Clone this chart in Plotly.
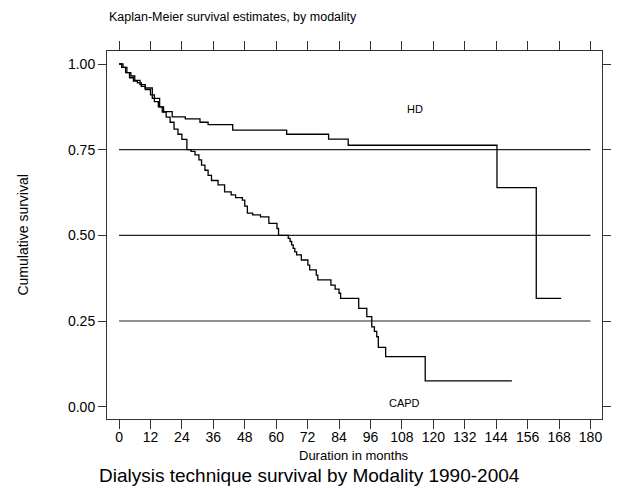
import plotly.graph_objects as go

# ---- data ----
hd_time = [0, 1.5, 3, 4.5, 6, 8, 10, 12.7, 15.5, 17, 20.3, 25.3, 30.9, 34, 43.4, 64, 80, 87.5, 144.3, 159.3, 168.8]
hd_surv = [1.0, 0.99, 0.975, 0.965, 0.952, 0.94, 0.93, 0.90, 0.875, 0.861, 0.846, 0.840, 0.830, 0.823, 0.807, 0.795, 0.781, 0.763, 0.639, 0.316, 0.316]

capd_time = [0, 1, 2.5, 4, 5.5, 7, 8.5, 10, 12, 13.5, 15, 16.5, 18, 19.5, 21, 22.5, 24, 25.9, 27.5, 29,
             30.5, 31.5, 32.8, 34, 35.3, 37.8, 40.3, 42.8, 44.5, 47.1, 48, 49, 51, 54, 57.2, 60.3, 60.9,
             64.6, 65.3, 65.9, 66.5, 67.1, 67.8, 69.6, 72.1, 72.8, 75.3, 75.9, 80.9, 82.5, 84, 84.6, 91.5,
             94.6, 96.5, 97.5, 98.4, 99, 101.8, 116.9, 150]
capd_surv = [1.0, 0.99, 0.975, 0.96, 0.95, 0.945, 0.935, 0.925, 0.91, 0.89, 0.875, 0.86, 0.845, 0.83, 0.81,
             0.795, 0.78, 0.75, 0.745, 0.735, 0.72, 0.705, 0.69, 0.675, 0.66, 0.647, 0.627, 0.618, 0.61,
             0.603, 0.585, 0.565, 0.56, 0.554, 0.535, 0.52, 0.50, 0.491, 0.482, 0.472, 0.462, 0.452, 0.443,
             0.428, 0.413, 0.399, 0.384, 0.37, 0.355, 0.343, 0.331, 0.316, 0.287, 0.263, 0.233, 0.22, 0.204,
             0.173, 0.146, 0.075, 0.075]

ref_levels = [0.25, 0.50, 0.75]
ref_span = [0, 180]

x_ticks = list(range(0, 181, 12))
y_ticks = [0.00, 0.25, 0.50, 0.75, 1.00]
y_tick_labels = ["0.00", "0.25", "0.50", "0.75", "1.00"]

FONT = "Liberation Sans, Arial, sans-serif"

fig = go.Figure()

for lvl in ref_levels:
    fig.add_trace(go.Scatter(x=ref_span, y=[lvl, lvl], mode="lines",
                             line=dict(color="#222", width=1.2), showlegend=False, hoverinfo="skip"))

fig.add_trace(go.Scatter(x=hd_time, y=hd_surv, mode="lines", line_shape="hv",
                         line=dict(color="#000", width=1.3), showlegend=False, name="HD"))
fig.add_trace(go.Scatter(x=capd_time, y=capd_surv, mode="lines", line_shape="hv",
                         line=dict(color="#000", width=1.3), showlegend=False, name="CAPD"))

fig.update_layout(
    width=619, height=488,
    margin=dict(l=107, r=8, t=51, b=69),
    paper_bgcolor="white", plot_bgcolor="white",
    font=dict(family=FONT, color="#000"),
    xaxis=dict(range=[-4.6, 184.4], tickvals=x_ticks, ticks="outside", ticklen=9, tickwidth=1,
               tickcolor="#333", showline=True, linecolor="#333", linewidth=1, mirror="allticks",
               showgrid=False, zeroline=False, tickfont=dict(size=14, family=FONT),
               ticklabelstandoff=-4),
    yaxis=dict(range=[-0.036, 1.038], tickvals=y_ticks, ticktext=y_tick_labels, ticks="outside",
               ticklen=8, tickwidth=1, tickcolor="#333", showline=True, linecolor="#333", linewidth=1,
               mirror="allticks", showgrid=False, zeroline=False, tickfont=dict(size=14, family=FONT)),
)

fig.add_annotation(text="Kaplan-Meier survival estimates, by modality", xref="paper", yref="paper",
                   x=0, y=(419 - 17) / 368, xanchor="left", yanchor="middle", showarrow=False,
                   font=dict(size=12.5, family=FONT))
fig.add_annotation(text="Duration in months", xref="paper", yref="paper", x=0.498,
                   y=(419 - 455) / 368, xanchor="center", yanchor="middle", showarrow=False,
                   font=dict(size=13, family=FONT))
fig.add_annotation(text="Dialysis technique survival by Modality 1990-2004", xref="paper", yref="paper",
                   x=(313 - 107) / 504, y=(419 - 475) / 368, xanchor="center", yanchor="middle",
                   showarrow=False, font=dict(size=19, family=FONT))
fig.add_annotation(text="Cumulative survival", xref="paper", yref="paper", x=(21 - 107) / 504, y=0.5,
                   xanchor="center", yanchor="middle", textangle=-90, showarrow=False,
                   font=dict(size=14, family=FONT))
fig.add_annotation(text="HD", x=113, y=0.869, xanchor="center", yanchor="middle", showarrow=False,
                   font=dict(size=11, family=FONT))
fig.add_annotation(text="CAPD", x=108.8, y=0.012, xanchor="center", yanchor="middle", showarrow=False,
                   font=dict(size=11, family=FONT))

fig.write_html("out.html")
